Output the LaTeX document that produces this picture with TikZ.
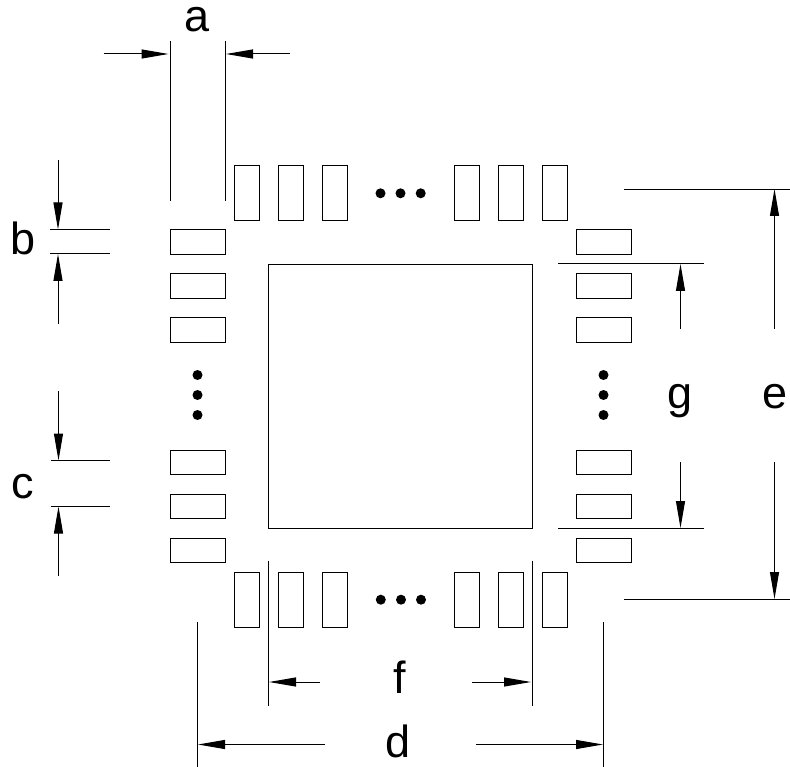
\documentclass[tikz,border=0pt]{standalone}
\usepackage{fontspec}
\setmainfont{Liberation Sans}
\usetikzlibrary{arrows.meta}
\tikzset{
  x=1pt,y=-1pt,
  line width=1pt,
  hpad/.style={draw,inner sep=0pt,outer sep=0pt,minimum width=55pt,minimum height=24.5pt},
  vpad/.style={draw,inner sep=0pt,outer sep=0pt,minimum width=24.5pt,minimum height=55pt},
  body/.style={draw,inner sep=0pt,outer sep=0pt,minimum width=264pt,minimum height=264pt},
  dimlabel/.style={inner sep=0pt,anchor=base,font=\fontsize{45}{45}\selectfont},
  ext/.style={line width=1pt},
  dimarrow/.style={line width=1pt,-{Triangle[length=27pt,width=9pt]}},
  dotmark/.style={circle,fill=black,inner sep=0pt,minimum size=10pt}
}
\begin{document}
\begin{tikzpicture}
\useasboundingbox (0,0) rectangle (790,767);
% body
\node[body] (pkg) at (400,396) {};
% pads
\foreach \n/\x in {1/246.5,2/290.5,3/334.5,4/466.5,5/510.5,6/554.5}{
  \node[vpad] (top\n) at (\x,192.5) {};
  \node[vpad] (bot\n) at (\x,599.5) {};
}
\foreach \n/\y in {1/241.75,2/285.75,3/329.75,4/462.25,5/506.25,6/550.25}{
  \node[hpad] (left\n) at (197.5,\y) {};
  \node[hpad] (right\n) at (603.5,\y) {};
}
% ellipsis dots
\foreach \n/\x in {1/380.5,2/400.5,3/420.7}{
  \node[dotmark] (tdot\n) at (\x,193.3) {};
}
\foreach \n/\x in {1/380.8,2/401,3/421}{
  \node[dotmark] (bdot\n) at (\x,599.7) {};
}
\foreach \n/\y in {1/375,2/395,3/415}{
  \node[dotmark] (ldot\n) at (197.5,\y) {};
  \node[dotmark] (rdot\n) at (603.5,\y) {};
}
% labels
\node[dimlabel] (la) at (197.5,31.5) {a};
\node[dimlabel] (lb) at (23.5,255) {b};
\node[dimlabel] (lc) at (23,498) {c};
\node[dimlabel] (ld) at (398.5,757) {d};
\node[dimlabel] (le) at (775,408) {e};
\node[dimlabel] (lf) at (400,693) {f};
\node[dimlabel] (lg) at (680.5,408) {g};
% dimension a
\coordinate (a1) at (170,41); \coordinate (a2) at (170,201);
\coordinate (a3) at (225,41); \coordinate (a4) at (225,201);
\coordinate (a5) at (103.5,54); \coordinate (a6) at (168.5,54);
\coordinate (a7) at (290,54); \coordinate (a8) at (226,54);
\draw[ext] (a1) -- (a2);
\draw[ext] (a3) -- (a4);
\draw[dimarrow] (a5) -- (a6);
\draw[dimarrow] (a7) -- (a8);
% dimension b
\coordinate (b1) at (50,229.5); \coordinate (b2) at (109.5,229.5);
\coordinate (b3) at (50,254); \coordinate (b4) at (109.5,254);
\coordinate (b5) at (58,160); \coordinate (b6) at (58,229.5);
\coordinate (b7) at (58,324); \coordinate (b8) at (58,254);
\draw[ext] (b1) -- (b2);
\draw[ext] (b3) -- (b4);
\draw[dimarrow] (b5) -- (b6);
\draw[dimarrow] (b7) -- (b8);
% dimension c
\coordinate (c1) at (50.5,460.5); \coordinate (c2) at (109.5,460.5);
\coordinate (c3) at (50.5,506.5); \coordinate (c4) at (109.5,506.5);
\coordinate (c5) at (58.5,391); \coordinate (c6) at (58.5,460.5);
\coordinate (c7) at (58.5,575.5); \coordinate (c8) at (58.5,506.5);
\draw[ext] (c1) -- (c2);
\draw[ext] (c3) -- (c4);
\draw[dimarrow] (c5) -- (c6);
\draw[dimarrow] (c7) -- (c8);
% dimension d
\coordinate (d1) at (197.5,622); \coordinate (d2) at (197.5,767);
\coordinate (d3) at (603.5,622); \coordinate (d4) at (603.5,767);
\coordinate (d5) at (325,744.5); \coordinate (d6) at (198,744.5);
\coordinate (d7) at (476,744.5); \coordinate (d8) at (603,744.5);
\draw[ext] (d1) -- (d2);
\draw[ext] (d3) -- (d4);
\draw[dimarrow] (d5) -- (d6);
\draw[dimarrow] (d7) -- (d8);
% dimension f
\coordinate (f1) at (268,560.5); \coordinate (f2) at (268,705.5);
\coordinate (f3) at (532,560.5); \coordinate (f4) at (532,705.5);
\coordinate (f5) at (320,682); \coordinate (f6) at (269,682);
\coordinate (f7) at (472,682); \coordinate (f8) at (531,682);
\draw[ext] (f1) -- (f2);
\draw[ext] (f3) -- (f4);
\draw[dimarrow] (f5) -- (f6);
\draw[dimarrow] (f7) -- (f8);
% dimension e
\coordinate (e1) at (624,190); \coordinate (e2) at (790,190);
\coordinate (e3) at (624,599.5); \coordinate (e4) at (790,599.5);
\coordinate (e5) at (774.5,329); \coordinate (e6) at (774.5,189);
\coordinate (e7) at (774.5,462); \coordinate (e8) at (774.5,599);
\draw[ext] (e1) -- (e2);
\draw[ext] (e3) -- (e4);
\draw[dimarrow] (e5) -- (e6);
\draw[dimarrow] (e7) -- (e8);
% dimension g
\coordinate (g1) at (558,264); \coordinate (g2) at (704,264);
\coordinate (g3) at (558,528); \coordinate (g4) at (704,528);
\coordinate (g5) at (680.5,329); \coordinate (g6) at (680.5,264);
\coordinate (g7) at (680.5,462); \coordinate (g8) at (680.5,528);
\draw[ext] (g1) -- (g2);
\draw[ext] (g3) -- (g4);
\draw[dimarrow] (g5) -- (g6);
\draw[dimarrow] (g7) -- (g8);
\end{tikzpicture}
\end{document}
